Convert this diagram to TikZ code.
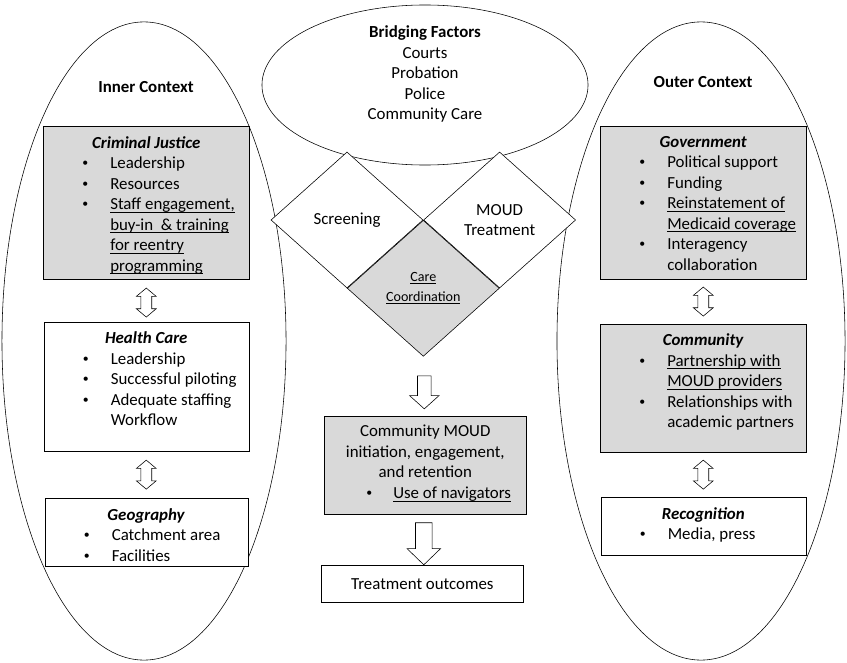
\documentclass[tikz,border=0pt]{standalone}
\usepackage{amsmath}
\usepackage{graphicx}
\usepackage{fontspec}
\setmainfont{Carlito}
\usetikzlibrary{positioning,calc,shapes.geometric,shapes.arrows}

\newlength{\pu}\setlength{\pu}{0.025cm}
\newcommand{\bul}{\makebox[0pt]{\raisebox{0.12em}{\scalebox{0.7}{\textbullet}}}}
\newcommand{\itm}[1]{\hspace*{42\pu}\bul\hspace*{25\pu}#1\par}
\newcommand{\cnt}[1]{\hspace*{67\pu}#1\par}
\newcommand{\ttl}[1]{\vspace*{10\pu}{\centering\textbf{\textit{#1}}\par}}
\newcommand{\ul}[1]{\underline{\smash[b]{#1}}}
\newcommand{\boxtext}[3]{\parbox[c][#2\pu][t]{#1\pu}{#3}}

\begin{document}
\begin{tikzpicture}[x=0.025cm,y=-0.025cm,font=\fontsize{12}{14.6}\selectfont]
        \tikzstyle{ctx}=[draw, ellipse, inner sep=0pt];
        \tikzstyle{dia}=[draw, diamond, fill=white, minimum width=3.8cm, minimum height=3.4cm, inner sep=0pt, align=center];
        \tikzstyle{bx}=[draw, fill=white, inner sep=0pt];
        \tikzstyle{gbx}=[bx, fill=black!15];
        \tikzstyle{dblarr}=[draw, fill=white, double arrow, shape border rotate=90, minimum height=0.725cm, inner sep=0.13cm, double arrow head extend=0.11cm, double arrow tip angle=100];
        \tikzstyle{downarr}=[draw, fill=white, single arrow, shape border rotate=270];
        \useasboundingbox (0,0) rectangle (847,663);
        % the three contexts
        \node[ctx, minimum width=7.1cm, minimum height=15.95cm] (inner) at (144,341) {};
        \node[ctx, minimum width=7.2cm, minimum height=15.95cm] (outer) at (701,341) {};
        \node[ctx, minimum width=8.15cm, minimum height=4cm] (bridge) at (425,85) {};
        \node (innerttl) at (146,87) {\textbf{Inner Context}};
        \node (outerttl) at (703,82) {\textbf{Outer Context}};
        \node[align=center] (bridgettl) at (425,74) {\textbf{Bridging Factors}\\Courts\\Probation\\Police\\Community Care};
        % bridging diamonds
        \node[dia] (scr) at (347,220) {Screening};
        \node[dia, right=0mm of scr] (mt) {MOUD\\Treatment};
        \node[dia, fill=black!15, font=\fontsize{10}{14.2}\selectfont] (cc) at (scr.east |- scr.south) {\ul{Care}\\\ul{Coordination}};
        % inner context
        \node[gbx, anchor=north west] (cj) at (43,126) {\boxtext{206}{153}{\ttl{Criminal Justice}\itm{Leadership}\itm{Resources}\itm{\ul{Staff engagement,}}\cnt{\ul{buy-in \ \& training}}\cnt{\ul{for reentry}}\cnt{\ul{programming}}}};
        \node[bx, below=1.05cm of cj] (hc) {\boxtext{205}{129}{\ttl{Health Care}\itm{Leadership}\itm{Successful piloting}\itm{Adequate staffing}\cnt{Workflow}}};
        \node[bx, below=1.175cm of hc] (geo) {\boxtext{203}{68}{\ttl{Geography}\itm{Catchment area}\itm{Facilities}}};
        % outer context
        \node[gbx, anchor=north west] (gov) at (600,126) {\boxtext{206}{153}{\ttl{Government}\itm{Political support}\itm{Funding}\itm{\ul{Reinstatement of}}\cnt{\ul{Medicaid coverage}}\itm{Interagency}\cnt{collaboration}}};
        \node[gbx, below=1.1cm of gov] (com) {\boxtext{206}{128}{\ttl{Community}\itm{\ul{Partnership with}}\cnt{\ul{MOUD providers}}\itm{Relationships with}\cnt{academic partners}}};
        \node[bx, below=1.125cm of com] (rec) {\boxtext{205}{58}{\ttl{Recognition}\itm{Media, press}}};
        % outcomes
        \node[gbx, anchor=north west] (cm) at (324,416) {\parbox[c][98\pu][t]{202\pu}{\vspace*{9\pu}\centering Community MOUD\\initiation, engagement,\\and retention\par\raggedright\hspace*{45\pu}\bul\hspace*{24\pu}\ul{Use of navigators}\par}};
        \node[bx, anchor=north west, minimum width=5.05cm, minimum height=0.925cm] (out) at (321,565) {Treatment outcomes};
        % arrows
        \node[downarr, minimum height=0.825cm, inner sep=0.1625cm, single arrow head extend=0.2cm, single arrow tip angle=96] (d1) at ($(cc.south)!.5!(cm.north)+(0,3)$) {};
        \node[downarr, minimum height=1.05cm, inner sep=0.2cm, single arrow head extend=0.2125cm, single arrow tip angle=92] (d2) at ($(cm.south)!.5!(out.north)$) {};
        \node[dblarr] (a1) at ($(cj.south)!.5!(hc.north)+(0,2)$) {};
        \node[dblarr] (a2) at ($(hc.south)!.5!(geo.north)$) {};
        \node[dblarr] (a3) at ($(gov.south)!.5!(com.north)$) {};
        \node[dblarr] (a4) at ($(com.south)!.5!(rec.north)$) {};
\end{tikzpicture}
\end{document}
